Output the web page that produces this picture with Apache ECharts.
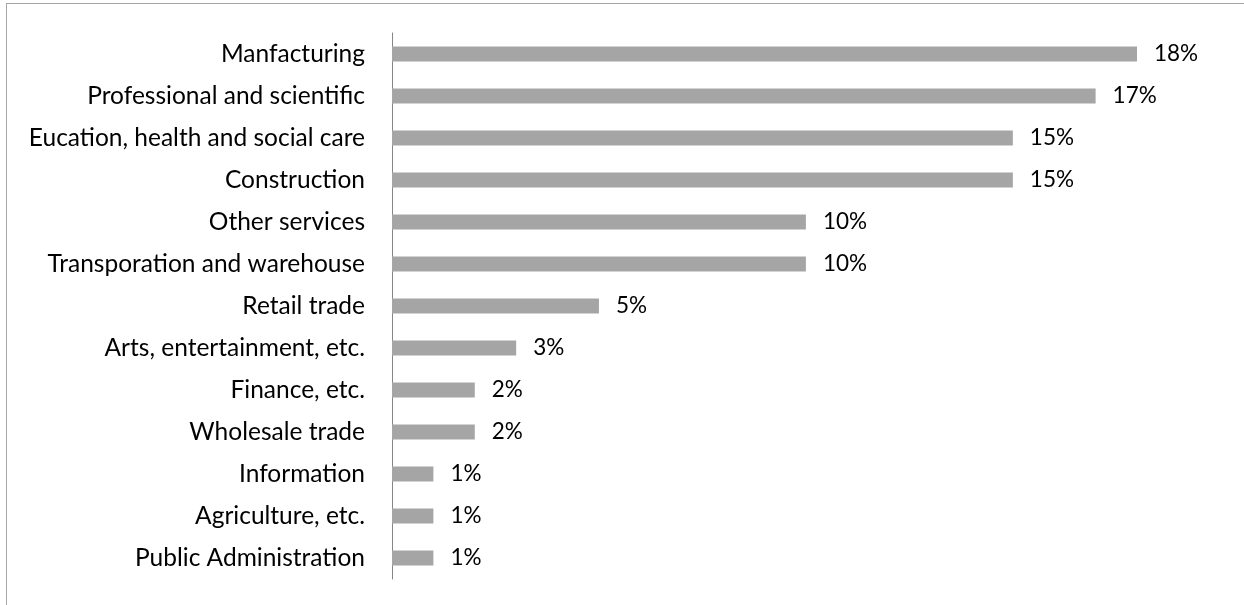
<!DOCTYPE html>
<html>
<head>
<meta charset="utf-8">
<script src="https://cdn.jsdelivr.net/npm/echarts@6/dist/echarts.min.js"></script>
<style>
html,body{margin:0;padding:0;background:#fff;}
#frame{position:absolute;left:6px;top:3px;width:1238px;height:602px;border-top:1px solid #a6a6a6;border-left:1px solid #a6a6a6;box-sizing:border-box;}
#chart{position:absolute;left:0;top:0;width:1244px;height:605px;}
</style>
</head>
<body>
<div id="frame"></div>
<div id="chart"></div>
<script>
var categories = [
  "Manfacturing",
  "Professional and scientific",
  "Eucation, health and social care",
  "Construction",
  "Other services",
  "Transporation and warehouse",
  "Retail trade",
  "Arts, entertainment, etc.",
  "Finance, etc.",
  "Wholesale trade",
  "Information",
  "Agriculture, etc.",
  "Public Administration"
];
var values = [18, 17, 15, 15, 10, 10, 5, 3, 2, 2, 1, 1, 1];

var chart = echarts.init(document.getElementById('chart'), null, {renderer: 'canvas'});
chart.setOption({
  animation: false,
  grid: {left: 392, right: 107, top: 33, bottom: 26, containLabel: false},
  xAxis: {
    type: 'value', min: 0, max: 18, show: false
  },
  yAxis: {
    type: 'category',
    inverse: true,
    data: categories,
    axisLine: {show: true, lineStyle: {color: '#868686', width: 1}},
    axisTick: {show: false},
    axisLabel: {
      color: '#000',
      fontFamily: 'Lato',
      fontSize: 24.5,
      margin: 27
    }
  },
  series: [{
    type: 'bar',
    data: values,
    barWidth: 15,
    itemStyle: {color: '#a5a5a5'},
    label: {
      show: true,
      position: 'right',
      distance: 17,
      color: '#000',
      fontFamily: 'Lato',
      fontSize: 22.5,
      formatter: function(p){ return p.value + '%'; }
    }
  }]
});
</script>
</body>
</html>
